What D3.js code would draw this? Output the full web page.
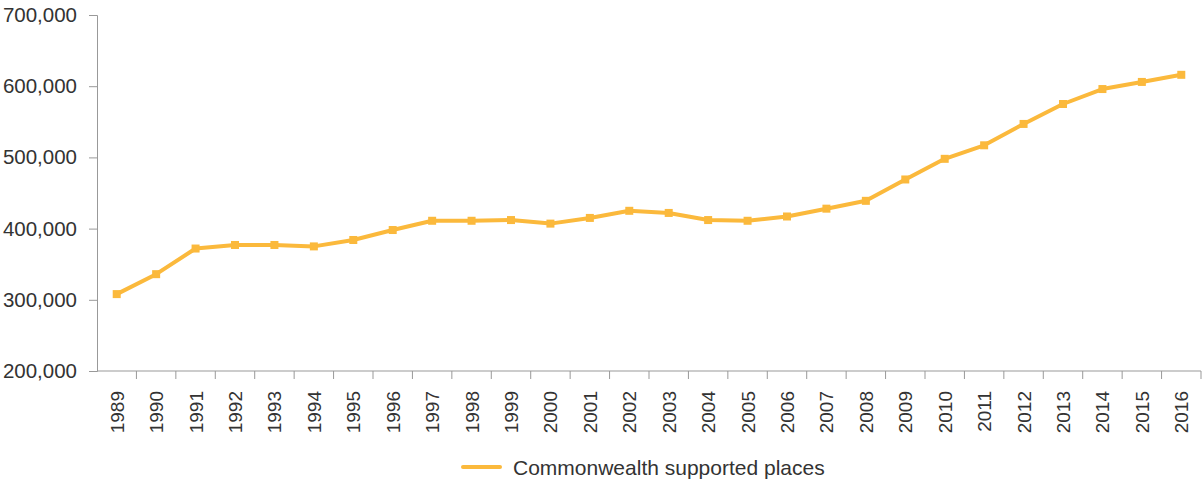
<!DOCTYPE html>
<html>
<head>
<meta charset="utf-8">
<script src="https://cdn.jsdelivr.net/npm/d3@7"></script>
<style>
  body { margin: 0; background: #fff; }
  text { font-family: "Liberation Sans", Arial, sans-serif; fill: #333; }
</style>
</head>
<body>
<svg id="chart" width="1203" height="480"></svg>
<script>
// data
const years = [1989, 1990, 1991, 1992, 1993, 1994, 1995, 1996, 1997, 1998,
  1999, 2000, 2001, 2002, 2003, 2004, 2005, 2006, 2007, 2008,
  2009, 2010, 2011, 2012, 2013, 2014, 2015, 2016];
const places = [308000, 336000, 372000, 377000, 377000, 375000, 384000, 398000, 411000, 411000,
  412000, 407000, 415000, 425000, 422000, 412000, 411000, 417000, 428000, 439000,
  469000, 498000, 517000, 547000, 575000, 596000, 606000, 616000];
const yTicks = [200000, 300000, 400000, 500000, 600000, 700000];
const seriesName = "Commonwealth supported places";

const color = "#fbb93c";
const axisColor = "#999";

const margin = {left: 97, right: 2, top: 15, bottom: 109};
const width = 1203, height = 480;

const svg = d3.select("#chart");

const x = d3.scaleBand()
  .domain(years)
  .range([margin.left, width - margin.right]);

const y = d3.scaleLinear()
  .domain([200000, 700000])
  .range([height - margin.bottom, margin.top]);

// y axis
const yAxis = svg.append("g")
  .attr("transform", `translate(${margin.left},0)`)
  .call(d3.axisLeft(y).tickValues(yTicks).tickFormat(d3.format(",")).tickSize(8).tickPadding(12));
yAxis.select(".domain").attr("stroke", axisColor);
yAxis.selectAll(".tick line").attr("stroke", axisColor);
yAxis.selectAll(".tick text")
  .attr("font-size", 20.5)
  .attr("font-family", "Liberation Sans, Arial, sans-serif")
  .attr("fill", "#333");

// x axis: ticks sit on the band boundaries
const xAxisY = y(200000);
const xg = svg.append("g");
xg.append("line")
  .attr("x1", margin.left).attr("x2", width - margin.right)
  .attr("y1", xAxisY).attr("y2", xAxisY)
  .attr("stroke", axisColor);
xg.selectAll("line.tk")
  .data(years.slice(1).concat(["end"]))
  .join("line")
  .attr("class", "tk")
  .attr("x1", d => d === "end" ? width - margin.right : x(d))
  .attr("x2", d => d === "end" ? width - margin.right : x(d))
  .attr("y1", xAxisY).attr("y2", xAxisY + 8)
  .attr("stroke", axisColor);
xg.selectAll("text")
  .data(years)
  .join("text")
  .attr("transform", d => `translate(${x(d) + x.bandwidth() / 2 + 7},${xAxisY + 20}) rotate(-90)`)
  .attr("text-anchor", "end")
  .attr("font-size", 19)
  .text(d => d);

// line + markers
const cx = d => x(d) + x.bandwidth() / 2;
const line = d3.line()
  .x((d, i) => cx(years[i]))
  .y(d => y(d));

svg.append("path")
  .datum(places)
  .attr("d", line)
  .attr("fill", "none")
  .attr("stroke", color)
  .attr("stroke-width", 4)
  .attr("stroke-linejoin", "round");

svg.selectAll("rect.pt")
  .data(places)
  .join("rect")
  .attr("class", "pt")
  .attr("x", (d, i) => cx(years[i]) - 4)
  .attr("y", d => y(d) - 4)
  .attr("width", 8)
  .attr("height", 8)
  .attr("fill", color);

// legend
const lg = svg.append("g").attr("transform", "translate(463,467)");
lg.append("line")
  .attr("x1", 0).attr("x2", 37)
  .attr("stroke", color)
  .attr("stroke-width", 4)
  .attr("stroke-linecap", "round");
lg.append("text")
  .attr("x", 50).attr("y", 7.5)
  .attr("font-size", 21)
  .text(seriesName);
</script>
</body>
</html>
